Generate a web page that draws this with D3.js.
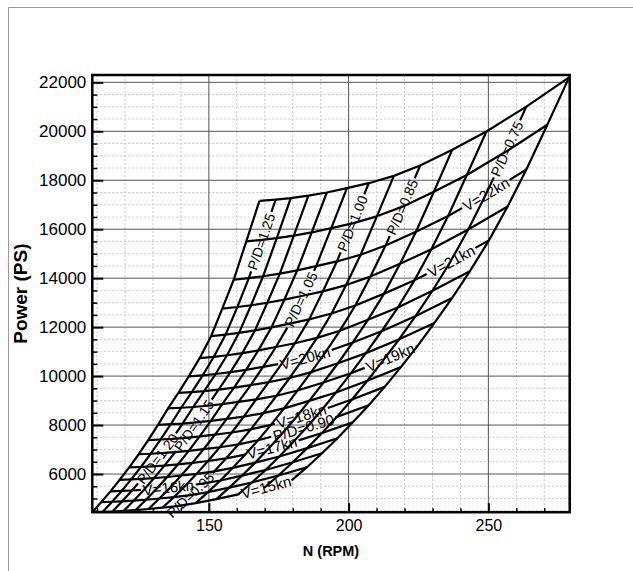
<!DOCTYPE html>
<html>
<head>
<meta charset="utf-8">
<script src="https://cdn.jsdelivr.net/npm/d3@7"></script>
<style>
  body { margin: 0; background: #fff; }
  text { font-family: "Liberation Sans", Arial, Helvetica, sans-serif; }
</style>
</head>
<body>
<svg id="chart" width="633" height="571"></svg>
<script>
/*
Propeller operating mesh: shaft speed N (RPM) vs delivered power (PS)
Lines of constant ship speed V and constant pitch ratio P/D
*/

// Pitch ratios (columns, left to right) and ship speeds (rows, bottom to top)
var pitchRatios = [1.30, 1.25, 1.20, 1.15, 1.10, 1.05, 1.00, 0.95, 0.90, 0.85, 0.80, 0.75, 0.70];
var speeds = [15, 15.5, 16, 16.5, 17, 17.5, 18, 18.5, 19, 19.5, 20, 20.5, 21, 21.5, 22, 22.5, 23];

// RPM at each mesh node, one row per speed
var rpm = [
  [108.3, 112.0, 115.5, 119.5, 123.8, 128.4, 133.4, 139.2, 145.3, 152.7, 160.5, 169.8, 179.6],
  [111.5, 115.4, 119.0, 123.1, 127.5, 132.3, 137.5, 143.4, 149.7, 157.3, 165.4, 174.9, 185.1],
  [114.8, 118.8, 122.5, 126.8, 131.3, 136.2, 141.5, 147.7, 154.1, 161.9, 170.3, 180.0, 190.5],
  [118.1, 122.2, 126.0, 130.4, 135.1, 140.1, 145.6, 151.9, 158.5, 166.6, 175.2, 185.2, 196.0],
  [121.5, 125.7, 129.6, 134.1, 138.9, 144.1, 149.7, 156.2, 163.0, 171.3, 180.1, 190.5, 201.5],
  [124.9, 129.2, 133.2, 137.9, 142.8, 148.1, 153.9, 160.6, 167.6, 176.1, 185.2, 195.8, 207.2],
  [128.3, 132.7, 136.9, 141.7, 146.7, 152.2, 158.2, 165.0, 172.2, 181.0, 190.3, 201.2, 212.9],
  [131.8, 136.4, 140.6, 145.5, 150.7, 156.4, 162.5, 169.5, 176.9, 185.9, 195.5, 206.7, 218.7],
  [135.4, 140.1, 144.4, 149.5, 154.8, 160.6, 166.9, 174.2, 181.7, 191.0, 200.8, 212.3, 224.7],
  [139.1, 143.9, 148.3, 153.5, 159.0, 165.0, 171.4, 178.9, 186.6, 196.2, 206.2, 218.1, 230.7],
  [142.8, 147.8, 152.4, 157.7, 163.3, 169.4, 176.1, 183.7, 191.7, 201.5, 211.8, 224.0, 237.0],
  [146.7, 151.8, 156.5, 162.0, 167.7, 174.0, 180.8, 188.7, 196.9, 206.9, 217.6, 230.0, 243.4],
  [150.8, 156.0, 160.8, 166.5, 172.4, 178.9, 185.9, 193.9, 202.4, 212.7, 223.6, 236.4, 250.2],
  [154.8, 160.2, 165.1, 170.9, 177.0, 183.6, 190.8, 199.1, 207.8, 218.4, 229.6, 242.8, 256.9],
  [158.9, 164.3, 169.4, 175.4, 181.6, 188.4, 195.8, 204.3, 213.2, 224.1, 235.6, 249.1, 263.6],
  [163.4, 169.0, 174.3, 180.4, 186.8, 193.8, 201.4, 210.1, 219.3, 230.5, 242.3, 256.2, 271.1],
  [168.1, 173.9, 179.3, 185.6, 192.2, 199.4, 207.2, 216.2, 225.6, 237.1, 249.3, 263.6, 278.9]
];

// Power (PS) at each mesh node, one row per speed
var power = [
  [4440, 4450, 4465, 4491, 4525, 4571, 4623, 4700, 4809, 4977, 5168, 5432, 5741],
  [4852, 4866, 4883, 4911, 4948, 4999, 5055, 5140, 5259, 5443, 5652, 5940, 6278],
  [5292, 5308, 5326, 5357, 5397, 5453, 5514, 5607, 5736, 5937, 6165, 6480, 6848],
  [5764, 5781, 5801, 5834, 5878, 5939, 6006, 6107, 6248, 6466, 6714, 7057, 7458],
  [6268, 6286, 6308, 6344, 6392, 6457, 6531, 6640, 6794, 7031, 7301, 7674, 8110],
  [6808, 6828, 6852, 6891, 6943, 7014, 7094, 7213, 7379, 7637, 7931, 8335, 8809],
  [7387, 7409, 7435, 7478, 7534, 7611, 7697, 7826, 8007, 8287, 8606, 9045, 9559],
  [8011, 8034, 8062, 8109, 8170, 8254, 8347, 8487, 8683, 8987, 9332, 9808, 10366],
  [8681, 8707, 8737, 8788, 8853, 8945, 9046, 9197, 9410, 9739, 10113, 10629, 11233],
  [9312, 9347, 9388, 9450, 9528, 9634, 9751, 9923, 10161, 10525, 10938, 11506, 12170],
  [9987, 10033, 10085, 10161, 10254, 10377, 10512, 10706, 10972, 11374, 11832, 12456, 13186],
  [10732, 10789, 10852, 10941, 11049, 11189, 11343, 11560, 11855, 12299, 12801, 13486, 14286],
  [11629, 11695, 11768, 11869, 11990, 12146, 12317, 12558, 12883, 13369, 13920, 14669, 15545],
  [12757, 12822, 12894, 12996, 13121, 13284, 13463, 13718, 14064, 14586, 15178, 15986, 16930],
  [13936, 14003, 14078, 14186, 14319, 14493, 14684, 14959, 15332, 15898, 16539, 17415, 18438],
  [15507, 15566, 15633, 15737, 15868, 16045, 16240, 16526, 16922, 17528, 18217, 19162, 20268],
  [17160, 17210, 17270, 17370, 17500, 17680, 17880, 18180, 18600, 19250, 19990, 21010, 22204]
];

// Axis ranges and ticks
var xDomain = [108.3, 279.1];
var yDomain = [4440, 22300];
var xTicks = [150, 200, 250];
var xMinorTicks = [110, 120, 130, 140, 160, 170, 180, 190, 210, 220, 230, 240, 260, 270];
var yTicks = [6000, 8000, 10000, 12000, 14000, 16000, 18000, 20000, 22000];
var yMinorTicks = [4500, 5000, 5500, 6500, 7000, 7500, 8500, 9000, 9500, 10500, 11000, 11500,
  12500, 13000, 13500, 14500, 15000, 15500, 16500, 17000, 17500, 18500, 19000, 19500,
  20500, 21000, 21500];

// Contour labels: which line they sit on, and roughly where (N, PS)
var meshLabels = [
  { text: "V=15kn", family: "v", value: 15, n: 170.5, p: 5470 },
  { text: "V=16kn", family: "v", value: 16, n: 135.5, p: 5440 },
  { text: "V=17kn", family: "v", value: 17, n: 172.5, p: 7100 },
  { text: "V=18kn", family: "v", value: 18, n: 183.2, p: 8300 },
  { text: "V=19kn", family: "v", value: 19, n: 215.0, p: 10750 },
  { text: "V=20kn", family: "v", value: 20, n: 184.6, p: 10650 },
  { text: "V=21kn", family: "v", value: 21, n: 237.0, p: 14650 },
  { text: "V=22kn", family: "v", value: 22, n: 249.4, p: 17400 },
  { text: "P/D=0.90", family: "v", value: 17.5, n: 184.0, p: 7850 },
  { text: "P/D=1.25", family: "pd", value: 1.25, n: 168.5, p: 15500 },
  { text: "P/D=1.20", family: "pd", value: 1.20, n: 131.3, p: 6650 },
  { text: "P/D=1.15", family: "pd", value: 1.15, n: 145.2, p: 7950 },
  { text: "P/D=1.05", family: "pd", value: 1.05, n: 182.5, p: 13150 },
  { text: "P/D=1.00", family: "pd", value: 1.00, n: 201.5, p: 16240 },
  { text: "P/D=0.95", family: "pd", value: 0.95, n: 143.5, p: 5120 },
  { text: "P/D=0.85", family: "pd", value: 0.90, n: 219.0, p: 16900 },
  { text: "P/D=0.75", family: "pd", value: 0.75, n: 257.8, p: 19230 }
];

var svg = d3.select("#chart");

// Plot box
var box = { left: 92.3, right: 569.7, top: 75, bottom: 512.2 };

var x = d3.scaleLinear().domain(xDomain).range([box.left, box.right]);
var y = d3.scaleLinear().domain(yDomain).range([box.bottom, box.top]);

// Page border (left and top only)
svg.append("path")
  .attr("d", "M8.5,571V7.5H633")
  .style("fill", "none")
  .style("stroke", "#999")
  .style("stroke-width", 1)
  ;

svg.append("defs").append("clipPath")
  .attr("id", "plot-clip")
  .append("rect")
    .attr("x", box.left)
    .attr("y", box.top)
    .attr("width", box.right - box.left)
    .attr("height", box.bottom - box.top)
  ;

// Grid
var grid = svg.append("g").attr("class", "grid");

// Minor grid, dotted
grid.selectAll("line.minor-x")
  .data(xMinorTicks)
  .enter().append("line")
    .attr("class", "minor-x")
    .attr("x1", function(d) { return x(d); })
    .attr("x2", function(d) { return x(d); })
    .attr("y1", box.top)
    .attr("y2", box.bottom)
  ;
grid.selectAll("line.minor-y")
  .data(yMinorTicks)
  .enter().append("line")
    .attr("class", "minor-y")
    .attr("x1", box.left)
    .attr("x2", box.right)
    .attr("y1", function(d) { return y(d); })
    .attr("y2", function(d) { return y(d); })
  ;
grid.selectAll("line.minor-x, line.minor-y")
  .style("stroke", "#c8c8c8")
  .style("stroke-width", 1)
  .style("stroke-dasharray", "2,2")
  ;

// Major grid, solid
grid.selectAll("line.major-x")
  .data(xTicks)
  .enter().append("line")
    .attr("class", "major-x")
    .attr("x1", function(d) { return x(d); })
    .attr("x2", function(d) { return x(d); })
    .attr("y1", box.top)
    .attr("y2", box.bottom)
  ;
grid.selectAll("line.major-y")
  .data(yTicks)
  .enter().append("line")
    .attr("class", "major-y")
    .attr("x1", box.left)
    .attr("x2", box.right)
    .attr("y1", function(d) { return y(d); })
    .attr("y2", function(d) { return y(d); })
  ;
grid.selectAll("line.major-x, line.major-y")
  .style("stroke", "#555")
  .style("stroke-width", 1)
  ;

// Mesh lines
var meshLine = d3.line()
  .x(function(d) { return x(d[0]); })
  .y(function(d) { return y(d[1]); })
  ;

var speedLines = speeds.map(function(v, j) {
  return {
    family: "v", value: v, gaps: [],
    pts: rpm[j].map(function(n, i) { return [n, power[j][i]]; })
  };
});
var pitchLines = pitchRatios.map(function(pd, i) {
  return {
    family: "pd", value: pd, gaps: [],
    pts: speeds.map(function(v, j) { return [rpm[j][i], power[j][i]]; })
  };
});
var allLines = speedLines.concat(pitchLines);

var mesh = svg.append("g")
  .attr("class", "mesh")
  .attr("clip-path", "url(#plot-clip)")
  ;

var paths = mesh.selectAll("path")
  .data(allLines)
  .enter().append("path")
    .attr("d", function(d) { return meshLine(d.pts); })
    .style("fill", "none")
    .style("stroke", "#000")
    .style("stroke-width", 2.2)
    .style("stroke-linejoin", "round")
    .each(function(d) { d.node = this; })
  ;

// Contour labels, placed on their line with the line broken underneath
var labelLayer = svg.append("g").attr("class", "labels");

meshLabels.forEach(function(lb) {
  var target = allLines.filter(function(d) {
    return d.family == lb.family && Math.abs(d.value - lb.value) < 1e-6;
  })[0];
  var node = target.node;
  var total = node.getTotalLength();
  var ax = x(lb.n), ay = y(lb.p);

  // Nearest point along the path
  var best = 0, bestD = Infinity;
  for (var s = 0; s <= total; s += 0.5) {
    var pt = node.getPointAtLength(s);
    var dd = (pt.x - ax) * (pt.x - ax) + (pt.y - ay) * (pt.y - ay);
    if (dd < bestD) { bestD = dd; best = s; }
  }

  var p0 = node.getPointAtLength(Math.max(0, best - 5));
  var p1 = node.getPointAtLength(Math.min(total, best + 5));
  var angle = Math.atan2(p1.y - p0.y, p1.x - p0.x) * 180 / Math.PI;
  if (angle > 90) angle -= 180;
  if (angle < -90) angle += 180;

  var c = node.getPointAtLength(best);
  var t = labelLayer.append("text")
    .attr("transform", "translate(" + c.x + "," + c.y + ") rotate(" + angle + ")")
    .attr("dy", "0.35em")
    .style("text-anchor", "middle")
    .style("font-size", lb.family == "v" ? "15px" : "14px")
    .style("fill", "#000")
    .text(lb.text)
    ;

  var w = t.node().getComputedTextLength();
  target.gaps.push([best - w / 2 - 2, best + w / 2 + 2]);
});

function gapDash(total, gaps) {
  gaps.sort(function(a, b) { return a[0] - b[0]; });
  var arr = [], pos = 0;
  gaps.forEach(function(g) {
    var s = Math.max(pos, g[0]), e = Math.min(total, g[1]);
    arr.push(Math.max(0, s - pos), Math.max(0, e - s));
    pos = Math.max(pos, e);
  });
  arr.push(total - pos + 10, 0);
  return arr.join(",");
}

paths.attr("stroke-dasharray", function(d) {
  return d.gaps.length ? gapDash(d.node.getTotalLength(), d.gaps) : null;
});

// Y-axis
svg.append("g")
  .attr("class", "y-axis")
  .attr("transform", "translate(" + box.left + ",0)")
  .call(d3.axisLeft(y).tickValues(yTicks).tickSize(-11).tickPadding(6).tickFormat(d3.format("d")))
  .call(function(g) { g.select(".domain").remove(); })
  .call(function(g) { g.selectAll(".tick line").attr("stroke", "#000").attr("stroke-width", 2); })
  .call(function(g) { g.selectAll(".tick text").attr("fill", "#000").style("font-size", "17px"); })
  ;
svg.append("g")
  .attr("class", "y-axis-minor")
  .attr("transform", "translate(" + box.left + ",0)")
  .call(d3.axisLeft(y).tickValues(yMinorTicks).tickSize(-5).tickFormat(""))
  .call(function(g) { g.select(".domain").remove(); })
  .call(function(g) { g.selectAll(".tick line").attr("stroke", "#000").attr("stroke-width", 1.5); })
  ;

// X-axis
svg.append("g")
  .attr("class", "x-axis")
  .attr("transform", "translate(0," + box.bottom + ")")
  .call(d3.axisBottom(x).tickValues(xTicks).tickSize(-9).tickPadding(7).tickFormat(d3.format("d")))
  .call(function(g) { g.select(".domain").remove(); })
  .call(function(g) { g.selectAll(".tick line").attr("stroke", "#000").attr("stroke-width", 2); })
  .call(function(g) { g.selectAll(".tick text").attr("fill", "#000").style("font-size", "16px"); })
  ;
svg.append("g")
  .attr("class", "x-axis-minor")
  .attr("transform", "translate(0," + box.bottom + ")")
  .call(d3.axisBottom(x).tickValues(xMinorTicks).tickSize(-4).tickFormat(""))
  .call(function(g) { g.select(".domain").remove(); })
  .call(function(g) { g.selectAll(".tick line").attr("stroke", "#000").attr("stroke-width", 1.5); })
  ;

// Frame
svg.append("rect")
  .attr("x", box.left)
  .attr("y", box.top)
  .attr("width", box.right - box.left)
  .attr("height", box.bottom - box.top)
  .style("fill", "none")
  .style("stroke", "#000")
  .style("stroke-width", 2.5)
  ;

// Axis titles
svg.append("text")
  .attr("transform", "translate(" + ((box.left + box.right) / 2) + ",556)")
  .style("text-anchor", "middle")
  .style("font-size", "14.5px")
  .style("font-weight", "bold")
  .text("N (RPM)")
  ;
svg.append("text")
  .attr("transform", "translate(27," + ((box.top + box.bottom) / 2) + ") rotate(-90)")
  .style("text-anchor", "middle")
  .style("font-size", "19px")
  .style("font-weight", "bold")
  .text("Power (PS)")
  ;
</script>
</body>
</html>
